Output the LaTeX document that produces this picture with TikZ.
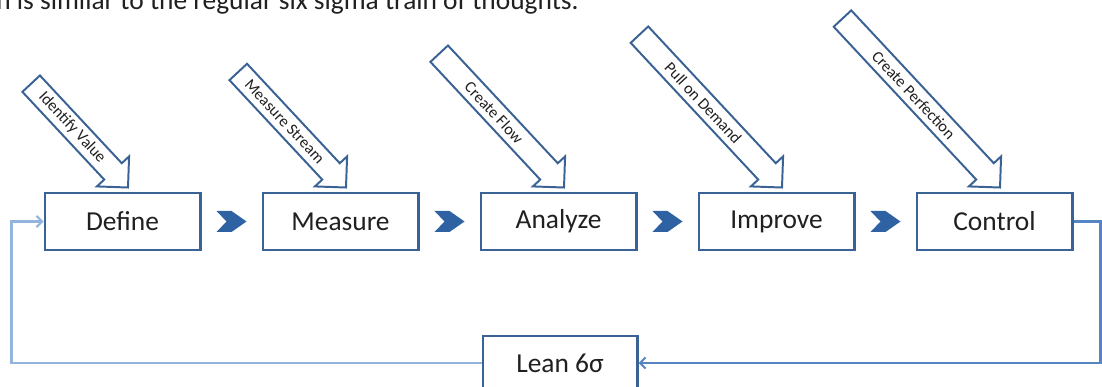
\documentclass[tikz,border=0pt]{standalone}
\usepackage{fontspec}
\setmainfont{Carlito}
\usetikzlibrary{calc,arrows.meta}
\definecolor{boxblue}{HTML}{3A6294}
\definecolor{chevblue}{HTML}{2F62A3}
\definecolor{fbdark}{HTML}{5585C2}
\definecolor{fblight}{HTML}{93B4DD}
\definecolor{inktext}{HTML}{202020}
% hollow block arrow pointing into a stage: tip, length, label
\newcommand\valuearrow[3]{%
  \begin{scope}[shift={(#1)},rotate=-47]
    \draw[boxblue,line width=1.4pt,fill=white,line join=miter]
      (-#2,12) -- (-22,12) -- (-22,22) -- (0,0) -- (-22,-22) -- (-22,-12) -- (-#2,-12) -- cycle;
    \node[rotate=-47,text=inktext,inner sep=0pt,font=\fontsize{11.5}{12}\selectfont] at ({-(#2+22)/2},0) {#3};
  \end{scope}}
\begin{document}
\begin{tikzpicture}[>={Straight Barb[length=4pt,width=8pt]},x=0.025cm,y=0.025cm,
    stage/.style={draw=boxblue,line width=2.1pt,fill=white,text=inktext,minimum width=3.875cm,minimum height=1.425cm,font=\fontsize{19.5}{21}\selectfont}]
  \useasboundingbox (0,0) rectangle (1102,387);
  \node[anchor=base west,inner sep=0,text=inktext,font=\fontsize{19.5}{21}\selectfont] (intro) at (-4,377) {n is similar to the regular six sigma train of thoughts.};
  % the five stages
  \foreach \n/\t [count=\i] in {define/Define,measure/Measure,analyze/Analyze,improve/Improve,control/Control}
    \node[stage] (\n) at ({122.5+218*(\i-1)},165.5) {\t};
  % chevrons between stages
  \foreach \a/\b in {define/measure,measure/analyze,analyze/improve,improve/control}
    \fill[chevblue] ($(\a.east)!0.5!(\b.west)$) ++(-15,10.5) -- ++(15,0) -- ++(15,-10.5) -- ++(-15,-10.5) -- ++(-15,0) -- ++(10,10.5) -- cycle;
  % lean principles feeding each stage
  \foreach \n/\l/\t in {define/142/Identify Value,measure/158/Measure Stream,analyze/183/Create Flow,improve/209/Pull on Demand,control/231/Create Perfection}
    \valuearrow{$(\n.north)+(5.5,4)$}{\l}{\t};
  % feedback loop
  \node[stage,minimum width=3.85cm,minimum height=1.35cm] (lean) at (560,24) {Lean 6σ};
  \draw[fbdark,line width=1.5pt,->] (control.east) -- ++(27,0) |- (lean.east);
  \draw[fblight,line width=1.5pt,->] (lean.west) -| ($(define.west)+(-32,0)$) -- (define.west);
\end{tikzpicture}
\end{document}
